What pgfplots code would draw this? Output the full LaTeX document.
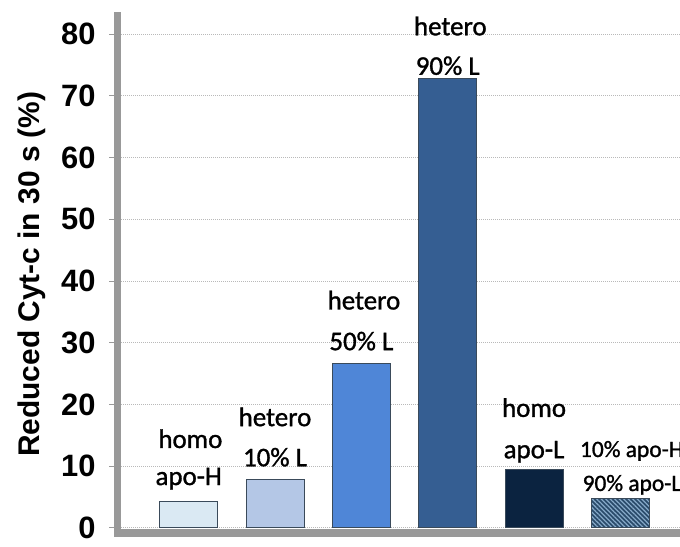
\documentclass[border=0pt]{standalone}
\usepackage{pgfplots}
\pgfplotsset{compat=1.18}
\usepackage{fontspec}
\setmainfont{Liberation Sans}
\newfontfamily\calfont[FakeBold=1.2]{Carlito}
\usetikzlibrary{patterns,patterns.meta}
\definecolor{cA}{HTML}{DAE9F3}
\definecolor{cB}{HTML}{B4C7E6}
\definecolor{cC}{HTML}{4F86D7}
\definecolor{cD}{HTML}{355E92}
\definecolor{cE}{HTML}{0B2340}
\definecolor{cFdark}{HTML}{2A4B6B}
\definecolor{cFlight}{HTML}{86A9C8}
\definecolor{edge}{HTML}{3A4A5A}
\definecolor{axgray}{HTML}{999999}
\begin{document}
\begin{tikzpicture}
\begin{axis}[
  at={(117bp,14bp)}, anchor=south west,
  scale only axis, width=563bp, height=517.5bp,
  xmin=-0.83, xmax=5.69, ymin=-0.81, ymax=83.0,
  axis x line*=bottom, axis y line*=left,
  axis line style={-, line width=7bp, draw=axgray, line cap=rect},
  xtick=\empty,
  ytick={0,10,...,80},
  ymajorgrids,
  grid style={line width=1bp, gray!55, dash pattern=on 1bp off 1bp},
  tick align=outside, major tick length=8bp,
  tick style={axgray, line width=1bp},
  /pgf/number format/assume math mode=true,
  yticklabel style={font=\fontsize{31}{31}\selectfont\bfseries, xshift=-10bp},
  ylabel={Reduced Cyt-c in 30 s (\%)},
  ylabel style={font=\fontsize{30}{30}\selectfont\bfseries, at={(axis description cs:-0.152,0.5)}, anchor=center, rotate=0},
  clip=false,
]
\addplot[ybar, bar width=58bp, bar shift=0pt, fill=cA, draw=edge, line width=1bp] coordinates {(0,4.26)};
\addplot[ybar, bar width=58bp, bar shift=0pt, fill=cB, draw=edge, line width=1bp] coordinates {(1,7.9)};
\addplot[ybar, bar width=58bp, bar shift=0pt, fill=cC, draw=edge, line width=1bp] coordinates {(2,26.7)};
\addplot[ybar, bar width=58bp, bar shift=0pt, fill=cD, draw=edge, line width=1bp] coordinates {(3,72.8)};
\addplot[ybar, bar width=58bp, bar shift=0pt, fill=cE, draw=edge, line width=1bp] coordinates {(4,9.4)};
\addplot[ybar, bar width=58bp, bar shift=0pt, fill=cFdark, draw=edge, line width=1bp,
  postaction={pattern={Lines[angle=-45, distance=3.2pt, line width=1.3pt]}, pattern color=cFlight}] coordinates {(5,4.8)};
\tikzset{lab/.style={font=\calfont\fontsize{27}{27}\selectfont, anchor=base, inner sep=0pt}}
\node[lab] at (axis cs:0.02,12.96) {homo};
\node[lab] at (axis cs:0,6.96) {apo-H};
\node[lab] at (axis cs:1,16.5) {hetero};
\node[lab] at (axis cs:1,10.0) {10\% L};
\node[lab] at (axis cs:2.03,35.4) {hetero};
\node[lab] at (axis cs:2.0,28.8) {50\% L};
\node[lab] at (axis cs:3.03,79.8) {hetero};
\node[lab] at (axis cs:3.0,73.4) {90\% L};
\node[lab] at (axis cs:4,18.0) {homo};
\node[lab] at (axis cs:4,11.3) {apo-L};
\node[lab, anchor=base west, font=\calfont\fontsize{23.5}{23.5}\selectfont] at (axis cs:4.53,11.5) {10\% apo-H};
\node[lab, anchor=base west, font=\calfont\fontsize{23.5}{23.5}\selectfont] at (axis cs:4.56,6.0) {90\% apo-L};
\end{axis}
\pgfresetboundingbox
\path (0,0) rectangle (680bp,547bp);
\end{tikzpicture}
\end{document}
